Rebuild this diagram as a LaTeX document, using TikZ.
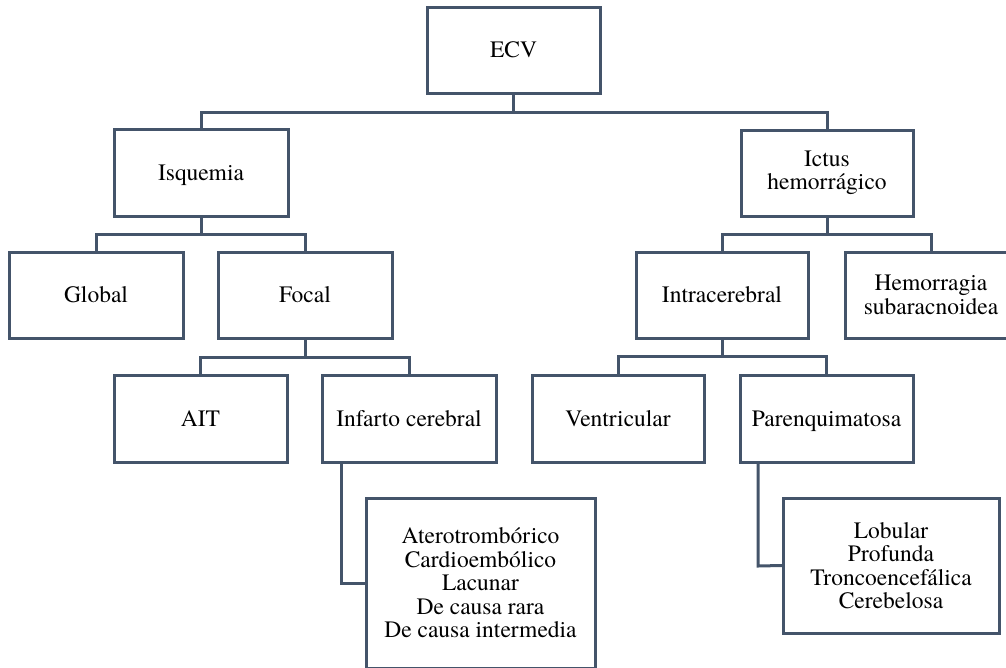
\documentclass[tikz,border=0pt]{standalone}
\usepackage{fontspec}
\setmainfont{TeX Gyre Termes}
\definecolor{linec}{HTML}{44546A}
\begin{document}
\begin{tikzpicture}[x=1pt,y=-1pt,
  box/.style={draw=linec, line width=3pt, fill=white, rectangle, inner sep=0pt,
    minimum width=#1, align=center, font=\fontsize{23.5}{23.5}\selectfont},
  box/.default=174pt,
  one/.style={text height=15.5pt, text depth=0pt},
  conn/.style={draw=linec, line width=3pt, line cap=rect}]
\useasboundingbox (0,0) rectangle (1006,667);
\clip (0,0) rectangle (1006,667);
\node[box=173pt, minimum height=86pt, one] (ecv) at (513.5,50) {ECV};
\node[box=174pt, minimum height=87pt, one] (isq) at (201,173) {Isquemia};
\node[box=172pt, minimum height=86pt] (ict) at (827,173) {Ictus\\hemorrágico};
\node[box=174pt, minimum height=86pt, one] (glo) at (96,295) {Global};
\node[box=174pt, minimum height=86pt, one] (foc) at (305,295) {Focal};
\node[box=172pt, minimum height=86pt, one] (intra) at (722,295) {Intracerebral};
\node[box=172pt, minimum height=86pt] (hsa) at (931,295) {Hemorragia\\subaracnoidea};
\node[box=173pt, minimum height=87pt, one] (ait) at (200.5,418.5) {AIT};
\node[box=174pt, minimum height=87pt, one] (inf) at (409,418.5) {Infarto cerebral};
\node[box=172pt, minimum height=87pt, one] (ven) at (618,418.5) {Ventricular};
\node[box=173pt, minimum height=87pt, one] (par) at (826.5,418.5) {Parenquimatosa};
\node[box=229pt, minimum height=170pt] (l1) at (480.5,583) {Aterotrombórico\\Cardioembólico\\Lacunar\\De causa rara\\De causa intermedia};
\node[box=216pt, minimum height=135pt] (l2) at (891,565.5) {Lobular\\Profunda\\Troncoencefálica\\Cerebelosa};
\coordinate (j1) at (513.5,112);
\coordinate (j2) at (201,234);
\coordinate (j3) at (827,234);
\coordinate (j4) at (305,357);
\coordinate (j5) at (722,356);
\coordinate (k1) at (341,583);
\coordinate (k2) at (758,566);
\draw[conn] (ecv.south) -- (j1) -| (isq.north);
\draw[conn] (j1) -| (ict.north);
\draw[conn] (isq.south) -- (j2) -| (glo.north);
\draw[conn] (j2) -| (foc.north);
\draw[conn] (ict.south) -- (j3) -| (intra.north);
\draw[conn] (j3) -| (hsa.north);
\draw[conn] (foc.south) -- (j4) -| (ait.north);
\draw[conn] (j4) -| (inf.north);
\draw[conn] (intra.south) -- (j5) -| (ven.north);
\draw[conn] (j5) -| (par.north);
\draw[conn] (k1 |- inf.south) -- (k1) -- (l1.west);
\draw[conn] (k2 |- par.south) -- (k2) -- (l2.west);
\end{tikzpicture}
\end{document}
